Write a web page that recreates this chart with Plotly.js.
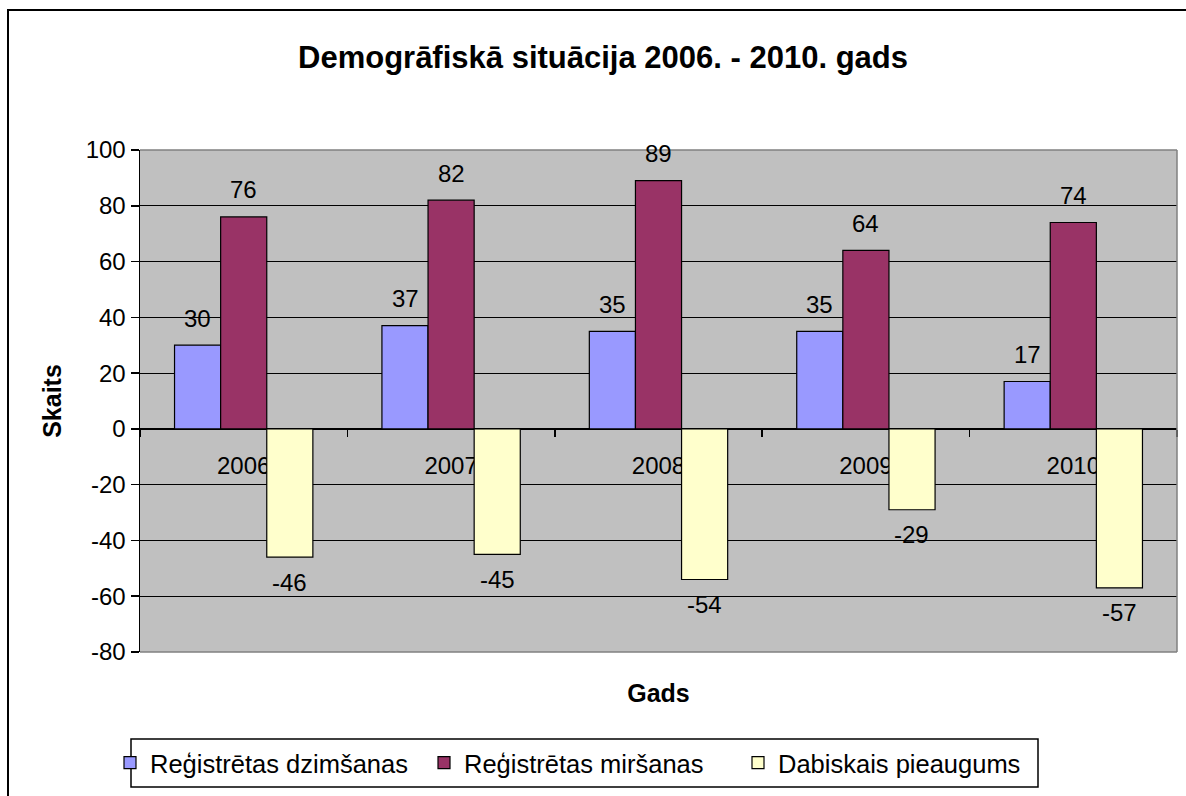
<!DOCTYPE html>
<html>
<head>
<meta charset="utf-8">
<script src="https://cdn.plot.ly/plotly-3.0.1.min.js"></script>
<style>html,body{margin:0;padding:0;background:#fff;}#chart{width:1186px;height:796px;}</style>
</head>
<body>
<div id="chart"></div>
<script>
const years = ["2006", "2007", "2008", "2009", "2010"];
const births = [30, 37, 35, 35, 17];
const deaths = [76, 82, 89, 64, 74];
const growth = [-46, -45, -54, -29, -57];
const seriesNames = ["Reģistrētas dzimšanas", "Reģistrētas miršanas", "Dabiskais pieaugums"];
const seriesColors = ["#9999FF", "#993366", "#FFFFCC"];
const yTicks = [-80, -60, -40, -20, 0, 20, 40, 60, 80, 100];
const yTickText = ["-80", "-60", "-40", "-20", "0", "20", "40", "60", "80", "100"];

const FONT = "Liberation Sans, Arial, sans-serif";
const seriesValues = [births, deaths, growth];

const traces = seriesValues.map((vals, i) => ({
  type: "bar",
  name: seriesNames[i],
  x: years,
  y: vals,
  marker: {color: seriesColors[i], line: {color: "#000", width: 1.2}},
  hoverinfo: "x+y+name"
}));

// data labels via annotations anchored to data coordinates (category index on x)
const barShift = [-46, 0, 46];
const annotations = [];
seriesValues.forEach((vals, i) => {
  vals.forEach((v, j) => {
    annotations.push({
      x: j, y: v, xref: "x", yref: "y",
      text: String(v), showarrow: false,
      xshift: barShift[i], yshift: v >= 0 ? 27 : -25,
      yanchor: "middle", xanchor: "center",
      font: {family: FONT, size: 24, color: "#000"}
    });
  });
});

const L = 140, R = 9, T = 150, B = 144;
const W = 1186, H = 796;
const pw = W - L - R, ph = H - T - B;
const px = v => (v - L) / pw;
const py = v => (H - B - v) / ph;

const layout = {
  width: W, height: H,
  margin: {l: L, r: R, t: T, b: B, pad: 0},
  paper_bgcolor: "#fff",
  plot_bgcolor: "#C0C0C0",
  font: {family: FONT, size: 24, color: "#000"},
  title: {
    text: "Demogrāfiskā situācija 2006. - 2010. gads",
    font: {family: FONT, size: 31, color: "#000", weight: "bold"},
    x: 603 / W, xanchor: "center", xref: "container",
    y: 1 - 57 / H, yanchor: "middle", yref: "container"
  },
  barmode: "group",
  bargap: 0.333,
  bargroupgap: 0,
  showlegend: true,
  legend: {
    orientation: "h",
    x: px(110), xanchor: "left",
    y: py(763), yanchor: "middle",
    bgcolor: "rgba(0,0,0,0)", borderwidth: 0,
    font: {family: FONT, size: 25.5, color: "#000"},
    itemwidth: 30,
    entrywidth: 269, entrywidthmode: "pixels",
    traceorder: "normal"
  },
  xaxis: {
    type: "category",
    anchor: "free",
    position: 80 / 180,
    range: [-0.5, 4.5],
    showline: true, linecolor: "#000", linewidth: 1.5,
    ticks: "outside", tickson: "boundaries", ticklen: 7, tickcolor: "#000", tickwidth: 1.5,
    ticklabelstandoff: 15,
    showgrid: false, zeroline: false,
    tickangle: 0,
    tickfont: {family: FONT, size: 24, color: "#000"},
    layer: "below traces",
    title: {text: "Gads", font: {family: FONT, size: 25, color: "#000", weight: "bold"}, standoff: 206},
    fixedrange: true
  },
  yaxis: {
    range: [-80, 100],
    tickvals: yTicks,
    ticktext: yTickText,
    showline: true, linecolor: "#000", linewidth: 1.5,
    ticks: "outside", ticklen: 8, tickcolor: "#000", tickwidth: 1.5,
    showgrid: true, gridcolor: "#000", gridwidth: 1,
    zeroline: true, zerolinecolor: "#000", zerolinewidth: 1.5,
    tickfont: {family: FONT, size: 24, color: "#000"},
    title: {text: "Skaits", font: {family: FONT, size: 25, color: "#000", weight: "bold"}, standoff: 17},
    fixedrange: true
  },
  annotations: annotations,
  shapes: [
    // plot area border (top, right, bottom)
    {type: "line", xref: "paper", yref: "paper", x0: 0, x1: 1, y0: 1, y1: 1, line: {color: "#808080", width: 1.5}, layer: "above"},
    {type: "line", xref: "paper", yref: "paper", x0: 1, x1: 1, y0: 0, y1: 1, line: {color: "#808080", width: 1.5}, layer: "above"},
    {type: "line", xref: "paper", yref: "paper", x0: 0, x1: 1, y0: 0, y1: 0, line: {color: "#808080", width: 1.5}, layer: "above"},
    // chart area outer border
    {type: "rect", xref: "paper", yref: "paper", x0: px(8), x1: px(1195), y0: py(805), y1: py(10), line: {color: "#000", width: 2}, fillcolor: "rgba(0,0,0,0)", layer: "above"},
    // legend box
    {type: "rect", xref: "paper", yref: "paper", x0: px(131), x1: px(1038), y0: py(787), y1: py(739), line: {color: "#000", width: 1.5}, fillcolor: "#fff", layer: "above"}
  ]
};

Plotly.newPlot("chart", traces, layout, {displayModeBar: false, staticPlot: true});
</script>
</body>
</html>
